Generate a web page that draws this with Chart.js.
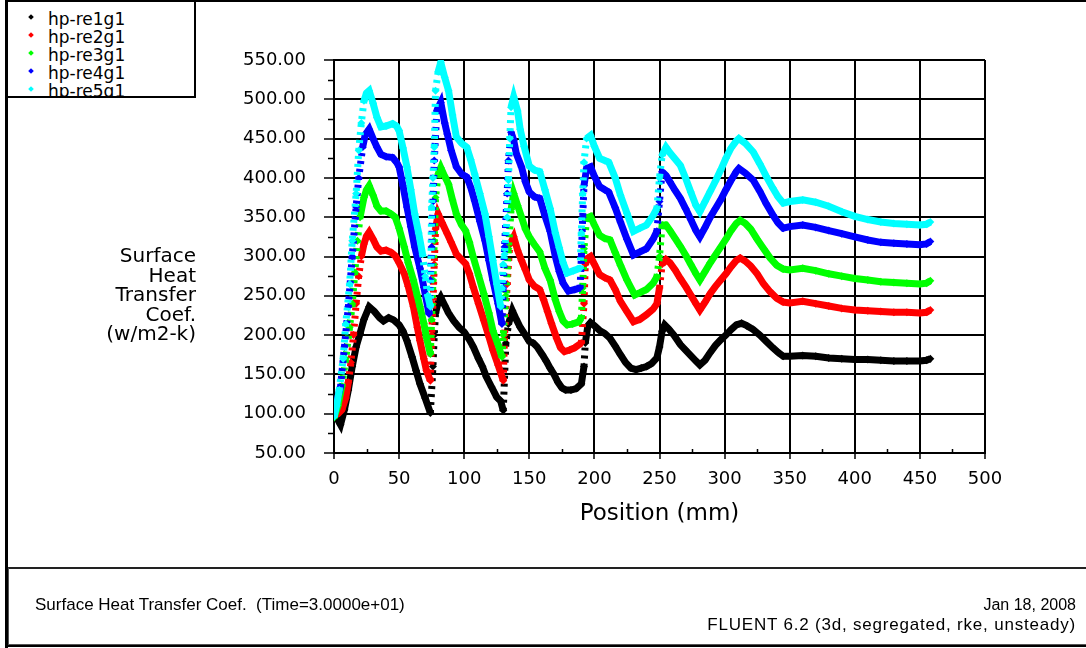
<!DOCTYPE html>
<html>
<head>
<meta charset="utf-8">
<title>Surface Heat Transfer Coef.</title>
<script src="https://cdn.jsdelivr.net/npm/chart.js@4.4.1/dist/chart.umd.min.js"></script>
<style>
  body { margin: 0; background: #fff; }
  #page { position: relative; width: 1086px; height: 648px; background: #fff; overflow: hidden; font-family: "DejaVu Sans", sans-serif; color: #000; }
  #plot { position: absolute; left: 0; top: 0; }
  .edge { position: absolute; background: #000; }
  #legend { position: absolute; left: 6px; top: 0; width: 186px; height: 94px; border: 2px solid #000; overflow: hidden; background: #fff; }
  #legend .row { position: absolute; left: 0; height: 18px; font-size: 17px; line-height: 18px; white-space: nowrap; }
  #legend .mark { position: absolute; left: 21px; top: 5px; width: 4px; height: 4px; transform: rotate(45deg); }
  #legend .txt { position: absolute; left: 40px; top: 0; }
  #yTitle { position: absolute; right: 890px; top: 246px; text-align: right; font-size: 20px; line-height: 19.6px; }
  #footer { position: absolute; left: 8px; top: 567px; width: 1078px; height: 75px; border-top: 2px solid #222; border-left: 1px solid #555; border-bottom: 1px solid #555; }
  #footer div { position: absolute; font-family: "Liberation Sans", sans-serif; font-size: 17px; line-height: 19px; white-space: nowrap; }
</style>
</head>
<body>
<div id="page">
  <canvas id="plot" width="1086" height="566"></canvas>
  <div class="edge" style="left:5px;top:0;width:3px;height:648px"></div>
  <div class="edge" style="left:5px;top:0;width:1081px;height:2px"></div>
  <div class="edge" style="left:5px;top:645px;width:1081px;height:2px"></div>
  <div id="legend"></div>
  <div id="yTitle">Surface<br>Heat<br>Transfer<br>Coef.<br>(w/m2-k)</div>
  <div id="footer">
    <div style="left:26px;top:26px">Surface Heat Transfer Coef.&nbsp; (Time=3.0000e+01)</div>
    <div style="right:11px;top:26px;font-size:16px">Jan 18, 2008</div>
    <div style="right:11px;top:46px;letter-spacing:0.8px">FLUENT 6.2 (3d, segregated, rke, unsteady)</div>
  </div>
</div>

<script>
// series names and colours
const seriesNames = ["hp-re1g1", "hp-re2g1", "hp-re3g1", "hp-re4g1", "hp-re5g1"];
const seriesColors = ["#000000", "#ff0000", "#00ff00", "#0000ff", "#00ffff"];

// [position mm, coefficient w/m2-k]
const hpRe1g1 = [[1,100],[3,92],[5,86],[8,105],[11,130],[14,160],[17,185],[20,202],[23,220],[27,236],[31,230],[35,222],[38,218],[42,222],[46,219],[50,213],[53,205],[56,193],[60,172],[63,155],[66,138],[70,120],[74,101],
  [76,160],[77,200],[78,228],[80,242],[82,248],[85,238],[88,228],[92,218],[96,210],[100,204],[104,194],[107,185],[111,170],[114,160],[117,147],[121,134],[125,121],[128,116],[130,104],
  [132,190],[134,214],[137,231],[140,220],[143,210],[147,200],[150,192],[153,190],[156,185],[160,175],[163,167],[166,158],[169,150],[172,140],[175,133],[178,130],[182,130],[186,132],[190,138],
  [192,160],[193,190],[195,212],[197,216],[200,212],[204,206],[208,202],[212,196],[216,186],[220,175],[224,165],[228,158],[232,156],[236,158],[240,160],[244,164],[248,171],[250,185],[252,205],[254,213],[257,208],[261,200],[266,188],[270,181],[274,174],[278,167],[281,162],[285,168],[289,178],[293,187],[297,194],[301,200],[305,207],[309,213],[313,215],[317,212],[322,207],[327,200],[332,192],[337,184],[341,178],[345,173],[350,173],[360,174],[370,173],[380,171],[390,170],[400,169],[410,169],[420,168],[430,167],[440,167],[450,167],[455,168],[458,170]];

const hpRe2g1 = [[0,98],[3,100],[6,105],[9,120],[11,140],[13,165],[15,200],[17,240],[19,275],[21,300],[23,316],[25,326],[27,331],[30,322],[33,312],[36,307],[40,308],[44,305],[47,301],[50,292],[54,278],[57,262],[61,236],[64,210],[66,193],[69,170],[71,155],[74,142],
  [75,200],[76,240],[77,290],[78,335],[80,354],[83,343],[87,329],[90,318],[94,303],[98,296],[101,291],[104,278],[107,261],[111,240],[115,219],[119,198],[122,181],[126,162],[130,142],
  [131,200],[133,265],[135,315],[138,325],[141,308],[144,295],[147,283],[150,270],[154,262],[158,258],[161,245],[164,230],[167,215],[171,196],[174,184],[177,179],[181,181],[185,184],[190,190],
  [192,240],[193,290],[195,298],[197,300],[200,290],[204,277],[208,273],[212,270],[216,258],[220,243],[225,230],[230,217],[235,220],[240,226],[245,233],[248,240],[250,260],[252,290],[255,296],[258,292],[262,283],[266,272],[270,262],[274,251],[278,240],[281,232],[285,242],[289,253],[293,262],[297,270],[301,278],[305,287],[309,295],[312,298],[316,294],[320,288],[325,278],[330,265],[335,255],[340,247],[345,242],[350,241],[360,243],[370,240],[380,237],[390,234],[400,232],[410,231],[420,230],[430,229],[440,229],[450,228],[455,229],[458,232]];

const hpRe3g1 = [[0,95],[3,110],[6,135],[9,170],[12,210],[14,240],[16,280],[18,320],[20,350],[23,375],[25,385],[27,390],[30,378],[33,364],[36,358],[40,358],[44,354],[47,350],[50,336],[54,312],[57,292],[61,270],[64,250],[66,236],[69,215],[71,197],[74,176],
  [75,220],[76,270],[77,320],[78,375],[80,405],[82,413],[85,402],[88,392],[91,372],[94,354],[98,340],[101,333],[104,318],[107,299],[111,276],[115,253],[119,228],[122,206],[126,188],[129,172],
  [130,200],[132,250],[134,310],[136,360],[138,380],[141,365],[144,350],[147,335],[150,325],[154,315],[158,306],[162,285],[166,270],[170,245],[173,230],[176,218],[179,213],[183,214],[188,217],[190,222],
  [191,260],[192,310],[194,349],[197,351],[200,340],[204,327],[208,323],[212,321],[216,305],[220,289],[225,270],[231,251],[235,254],[240,258],[245,266],[248,274],[250,300],[252,340],[255,340],[258,333],[262,323],[266,313],[270,302],[274,290],[278,278],[281,270],[285,281],[289,292],[293,302],[297,312],[301,322],[305,333],[309,342],[312,346],[316,342],[320,335],[325,322],[330,310],[335,298],[340,289],[345,284],[350,283],[360,285],[370,282],[380,278],[390,275],[400,272],[410,270],[420,268],[430,267],[440,266],[450,265],[455,266],[458,269]];

const hpRe4g1 = [[0,104],[2,115],[5,134],[8,185],[11,236],[14,300],[17,363],[19,400],[22,439],[24,455],[27,462],[30,450],[33,439],[36,430],[40,427],[45,426],[48,420],[50,414],[53,390],[56,363],[59,338],[62,312],[66,285],[69,261],[73,227],
  [74,270],[75,312],[76,370],[77,422],[79,486],[82,496],[85,470],[87,456],[90,435],[94,414],[98,405],[102,401],[105,388],[108,371],[112,345],[116,320],[119,295],[122,270],[126,240],[129,214],
  [130,260],[131,312],[133,380],[134,422],[136,458],[138,448],[140,431],[144,414],[147,395],[150,382],[154,376],[158,374],[162,352],[166,332],[170,300],[173,281],[176,266],[180,256],[185,258],[189,260],
  [190,300],[191,350],[192,390],[194,412],[197,414],[200,402],[204,389],[208,385],[211,382],[216,362],[220,344],[225,322],[230,302],[235,306],[240,310],[245,322],[248,332],[250,370],[252,408],[255,403],[258,395],[262,384],[266,374],[270,361],[274,347],[278,333],[281,325],[285,337],[289,350],[293,361],[297,372],[301,385],[305,397],[309,408],[311,412],[316,406],[322,397],[327,383],[332,367],[337,353],[341,343],[345,336],[350,338],[360,340],[370,337],[380,333],[390,329],[400,325],[410,321],[420,318],[430,317],[440,316],[450,315],[455,316],[458,319]];

const hpRe5g1 = [[0,96],[2,110],[4,130],[7,170],[9,214],[12,265],[14,320],[17,380],[19,435],[21,470],[23,498],[25,508],[27,511],[30,495],[33,477],[36,465],[40,466],[45,469],[48,466],[50,460],[53,438],[56,414],[59,385],[62,354],[65,330],[68,303],[70,275],[72,250],[74,236],
  [75,363],[76,400],[77,439],[78,511],[80,535],[82,547],[85,528],[88,511],[91,480],[94,452],[98,444],[102,439],[105,423],[108,405],[112,380],[116,354],[119,325],[122,295],[125,265],[128,236],
  [129,260],[130,290],[131,303],[133,350],[134,397],[135,450],[136,490],[138,503],[141,485],[143,462],[146,440],[150,415],[154,410],[158,408],[162,385],[166,361],[170,330],[173,311],[176,292],[179,279],[184,282],[189,285],
  [190,330],[191,380],[192,420],[194,450],[197,454],[200,440],[204,425],[208,422],[211,420],[216,400],[220,378],[225,355],[230,332],[235,336],[240,340],[245,352],[248,361],[250,400],[252,429],[255,439],[258,432],[262,424],[266,416],[270,400],[274,382],[278,365],[281,357],[285,370],[289,383],[293,396],[297,410],[301,425],[305,438],[309,447],[311,450],[316,444],[322,433],[327,418],[332,402],[337,387],[341,376],[345,368],[350,370],[360,372],[370,369],[380,364],[390,357],[400,351],[410,347],[420,344],[430,342],[440,341],[450,340],[455,341],[458,344]];

const seriesData = [hpRe1g1, hpRe2g1, hpRe3g1, hpRe4g1, hpRe5g1];

// axis ranges and tick steps
const xRange = [0, 500];
const yRange = [50, 550];
const majorStep = 50;
const minorStep = 25;

// legend box
const legendBox = document.getElementById("legend");
seriesNames.forEach((name, i) => {
  const row = document.createElement("div");
  row.className = "row";
  row.style.top = (8 + i * 18) + "px";
  row.innerHTML = '<span class="mark" style="background:' + seriesColors[i] + '"></span><span class="txt">' + name + '</span>';
  legendBox.appendChild(row);
});

// small ticks between the labelled ones
const minorTicks = {
  id: "minorTicks",
  afterDraw(chart) {
    const ctx = chart.ctx;
    const xs = chart.scales.x, ys = chart.scales.y;
    ctx.save();
    ctx.strokeStyle = "#000";
    ctx.lineWidth = 1.5;
    ctx.beginPath();
    for (let v = yRange[0] + minorStep; v < yRange[1]; v += majorStep) {
      const py = Math.round(ys.getPixelForValue(v)) + 0.5;
      ctx.moveTo(xs.left - 6, py);
      ctx.lineTo(xs.left, py);
    }
    for (let v = xRange[0] + minorStep; v < xRange[1]; v += majorStep) {
      const px = Math.round(xs.getPixelForValue(v)) + 0.5;
      ctx.moveTo(px, ys.bottom);
      ctx.lineTo(px, ys.bottom - 4);
    }
    ctx.stroke();
    ctx.restore();
  }
};

const tickFont = { family: "DejaVu Sans", size: 18 };

// near-vertical jumps show up as separate dots
const steepDash = ctx => {
  const dx = Math.abs(ctx.p1.x - ctx.p0.x);
  const dy = Math.abs(ctx.p1.y - ctx.p0.y);
  return dy > 7 * dx ? [3, 5] : undefined;
};

const chart = new Chart(document.getElementById("plot"), {
  type: "line",
  data: {
    datasets: seriesData.map((pts, i) => ({
      label: seriesNames[i],
      data: pts.map(p => ({ x: p[0], y: p[1] })),
      borderColor: seriesColors[i],
      backgroundColor: seriesColors[i],
      borderWidth: 7,
      pointStyle: "rectRot",
      pointRadius: 4,
      pointBorderWidth: 0,
      pointBackgroundColor: seriesColors[i],
      tension: 0,
      fill: false,
      order: seriesData.length - i,
      segment: { borderDash: steepDash }
    }))
  },
  options: {
    responsive: false,
    animation: false,
    devicePixelRatio: 1,
    layout: { padding: { left: 0, right: 101, top: 60, bottom: 38 } },
    plugins: { legend: { display: false }, tooltip: { enabled: false } },
    scales: {
      x: {
        type: "linear",
        min: xRange[0],
        max: xRange[1],
        afterFit: s => { s.height = 75; },
        ticks: { stepSize: majorStep, autoSkip: false, maxRotation: 0, color: "#000", font: tickFont, padding: 10 },
        grid: { color: "#000", lineWidth: 2, tickLength: 6, tickColor: "#000", tickWidth: 1.5 },
        border: { color: "#000", width: 2 },
        title: { display: true, text: "Position (mm)", color: "#000", font: { family: "DejaVu Sans", size: 23 }, padding: 0 }
      },
      y: {
        min: yRange[0],
        max: yRange[1],
        afterFit: s => { s.width = 334; },
        ticks: { stepSize: majorStep, autoSkip: false, color: "#000", font: tickFont, padding: 18, callback: v => v.toFixed(2) },
        grid: { color: "#000", lineWidth: 2, tickLength: 10, tickColor: "#000", tickWidth: 1.5 },
        border: { color: "#000", width: 2 }
      }
    }
  },
  plugins: [minorTicks]
});
</script>
</body>
</html>
